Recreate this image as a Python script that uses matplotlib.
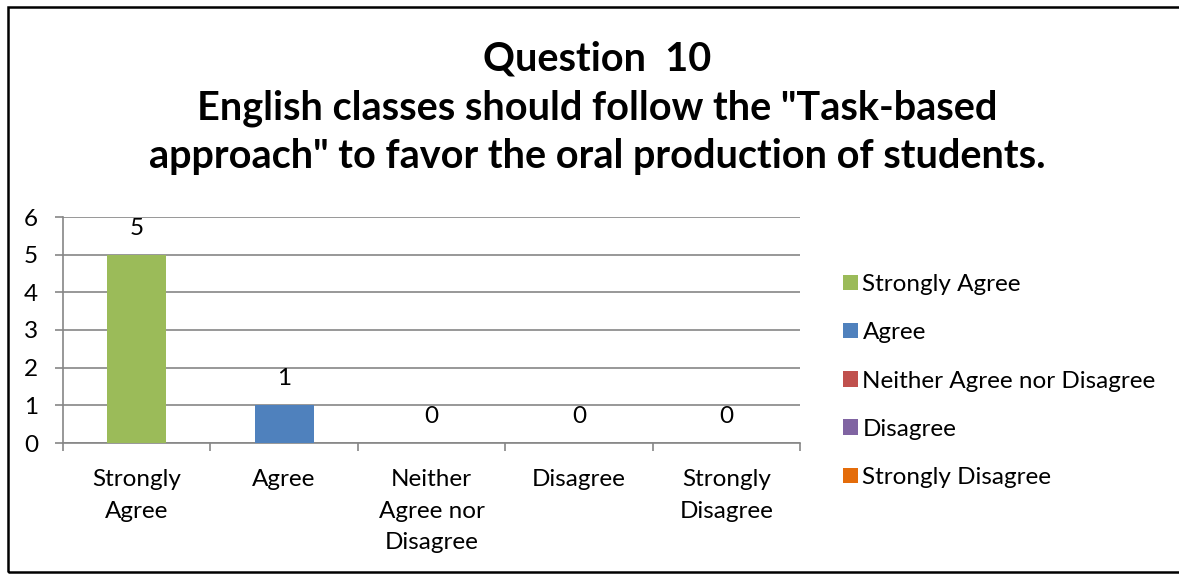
import matplotlib
matplotlib.use("Agg")
import matplotlib.pyplot as plt
from matplotlib.patches import Patch, Rectangle

categories = ["Strongly Agree", "Agree", "Neither Agree nor Disagree", "Disagree", "Strongly Disagree"]
tick_labels = ["Strongly\nAgree", "Agree", "Neither\nAgree nor\nDisagree", "Disagree", "Strongly\nDisagree"]
values = [5, 1, 0, 0, 0]
colors = ["#9BBB59", "#4F81BD", "#C0504D", "#8064A2", "#E46C0A"]
title = 'Question  10\nEnglish classes should follow the "Task-based\napproach" to favor the oral production of students.'

plt.rcParams['font.family'] = ['Lato', 'DejaVu Sans']

W, H = 1179, 576
fig = plt.figure(figsize=(W/100, H/100), dpi=100)

# outer frame (right edge runs off the image, as in the reference)
fig.patches.append(Rectangle((8/W, 4/H), (1200-8)/W, (569-4)/H, transform=fig.transFigure,
                             fill=False, edgecolor='black', linewidth=1.8, clip_on=False))

ax = fig.add_axes([63/W, (H-443)/H, (800-63)/W, (443-217)/H])
x = list(range(len(categories)))
ax.bar(x, values, width=0.4, color=colors, zorder=3)
for xi, v in zip(x, values):
    ax.text(xi, v + 0.7, str(v), ha='center', va='center', fontsize=17.5)

ax.set_xlim(-0.5, 4.5)
ax.set_ylim(0, 6)
ax.set_yticks(range(0, 7))
ax.yaxis.grid(True, color='#868686', linewidth=1.2, zorder=0)
ax.set_xticks(x)
ax.set_xticklabels(tick_labels, fontsize=17.5, linespacing=1.6)
ax.set_xticks([i - 0.5 for i in range(6)], minor=True)
ax.tick_params(axis='x', which='major', length=0, pad=19)
ax.tick_params(axis='x', which='minor', length=6, color='#868686', width=1.2)
ax.tick_params(axis='y', length=6, color='#868686', width=1.2, labelsize=17.5, pad=12)
for s in ['top', 'right']:
    ax.spines[s].set_visible(False)
for s in ['left', 'bottom']:
    ax.spines[s].set_color('#868686')
    ax.spines[s].set_linewidth(1.2)

fig.text(597/W, 1 - 108/H, title, ha='center', va='center', fontsize=28.5,
         fontweight='bold', linespacing=1.38)

handles = [Patch(facecolor=c, edgecolor='none') for c in colors]
fig.legend(handles, categories, loc='center left', bbox_to_anchor=(843/W, 1 - 381/H),
           frameon=False, fontsize=17.5, handlelength=0.6, handleheight=0.6,
           handletextpad=0.2, labelspacing=1.12, borderpad=0, borderaxespad=0)

fig.savefig("out.png", dpi=100)
